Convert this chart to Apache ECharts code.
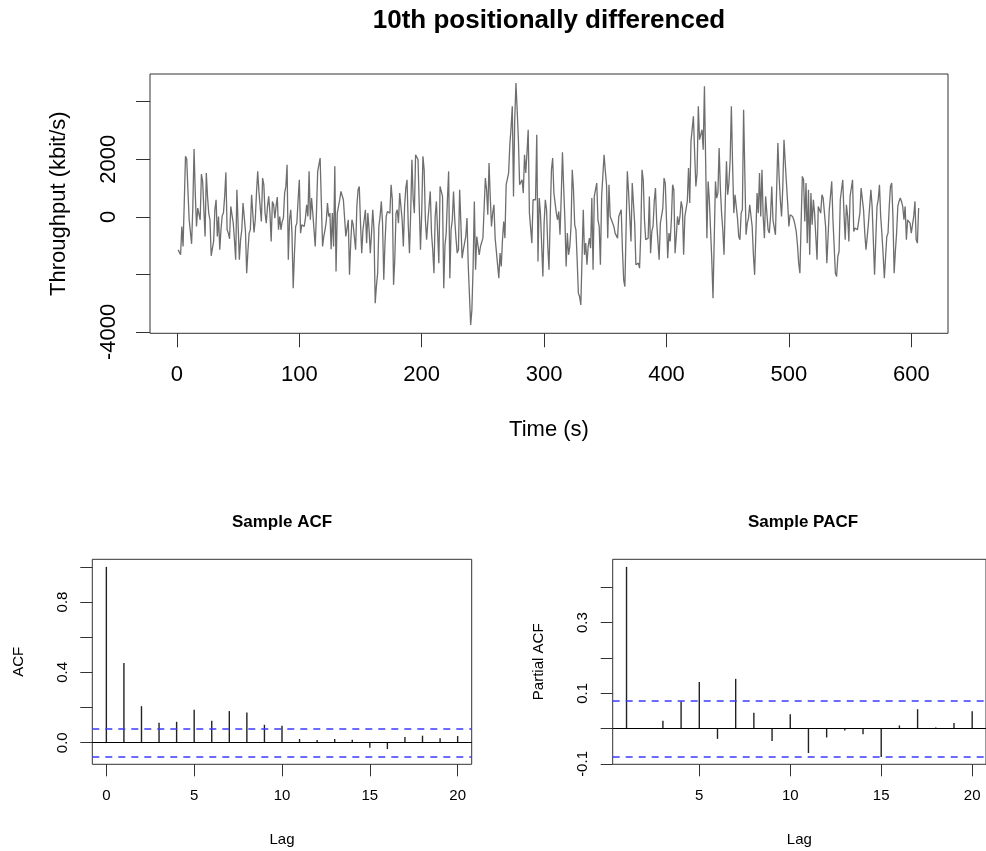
<!DOCTYPE html>
<html>
<head>
<meta charset="utf-8">
<script src="https://cdn.jsdelivr.net/npm/echarts@6/dist/echarts.min.js"></script>
<style>
html,body{margin:0;padding:0;background:#fff;}
#chart{width:986px;height:851px;}
</style>
</head>
<body>
<div id="chart"></div>
<script>
// ---- Data ----
// 10th positionally differenced throughput (kbit/s), one value per second, t = 1..606
const throughput = [
  -1150,-1206,-1322,-336,-1032,500,2100,2006,900,-104,-46,-940,360,2355,800,-336,302,244,-104,1485,1230,1230,-684,1520,700,
  128,-104,-1357,-1100,-858,244,592,-684,12,-1148,-452,35,128,708,1543,-452,-568,-766,360,418,-220,-800,-1496,940,940,
  -1496,-800,-452,476,476,-500,-1960,-1200,-568,-452,766,731,-545,-104,824,1578,882,882,-162,1346,1114,128,-220,
  360,708,128,-858,534,418,-46,360,684,-452,12,-452,-162,-46,824,1056,1810,-1496,-104,244,-568,-2482,-1300,-336,-220,
  592,1288,-568,-278,-278,-336,-46,418,12,1578,-104,650,128,-452,-1032,128,1578,1520,2042,500,-1032,-684,-452,-162,476,
  12,128,-1125,128,-1032,1752,-1902,128,70,592,882,940,592,-46,-684,-742,-104,-2018,-900,-104,-278,-220,-1148,360,940,
  1056,-220,-1264,
  -452,-104,244,-916,128,-452,-1264,-568,244,-452,-3004,-2400,-1960,-336,12,534,-220,-2192,-900,12,186,128,128,1114,592,
  -2366,-1496,128,244,-220,824,766,-104,-1032,360,998,1288,-278,-1264,128,1984,650,128,2158,2158,1984,360,-1148,128,2100,
  1636,-104,-800,-162,360,882,-568,-1148,-1960,12,534,592,-1612,1056,882,708,-2482,-1000,-568,592,1578,-2134,-452,-104,882,
  -104,-742,-1264,
  -1148,940,-220,-1438,-1148,-1206,-684,-46,-1670,-1728,-3758,-3236,-1728,534,-1844,-684,-684,-1322,-1032,-1090,-742,-800,1346,940,70,
  1868,700,-336,128,418,-742,-800,-1670,-2134,-1264,-1728,-800,-162,-742,1114,1172,1520,2506,3086,3840,708,3376,4652,3700,2680,
  1114,1056,1288,824,2158,1520,2216,3028,128,70,-916,592,650,592,2854,-1554,650,128,-974,-2076,-220,592,244,-1032,-1844,
  12,1636,
  2042,824,766,128,-104,186,-626,708,2239,1000,-104,-1728,-568,-1322,-1032,-336,1636,940,-278,-452,-1496,-2656,-2772,-3062,-1400,
  244,-1322,-916,-1670,-1032,-742,-1090,650,-1844,708,940,1172,-104,-336,-1670,708,650,2158,1600,1114,-742,1114,12,-104,-46,
  -336,-568,-568,-742,12,70,244,-1148,-2192,-2424,-400,1578,882,940,-858,1172,1230,-220,-1670,-1728,-1612,-1786,-568,1636,1288,
  -104,-800,-742,
  -742,708,-1264,-510,-336,534,998,-220,-278,-1496,-220,-278,302,1346,1172,-104,-1438,-568,-858,-104,1114,940,-1264,-684,12,
  -278,12,534,302,-1322,12,-46,534,1694,476,2622,2564,3492,2200,1056,1520,3840,2680,2622,3028,2332,4536,1900,-742,1230,
  592,-452,-1496,-2830,-800,1230,650,824,2390,998,128,-452,-1322,476,1926,766,1172,1984,3840,1800,128,766,824,-46,-684,
  -800,128,244,
  3724,1500,-626,-220,-46,418,360,-336,-1322,-2018,-600,824,128,1520,12,1636,12,-742,708,128,-452,-568,12,1056,-104,
  -46,-626,-568,2564,1400,592,12,998,2680,1900,1172,476,-336,70,12,12,-104,-278,-510,-974,-1612,-1960,-200,1404,1288,
  -162,1172,-916,940,-1322,824,-278,592,128,-684,-1496,360,360,128,766,650,592,-336,-1612,-700,244,244,1230,-104,-104,
  -1960,-2076,
  -1380,-1206,592,592,1288,128,-800,418,12,-858,708,766,1288,-510,-394,-452,-452,-452,128,998,998,244,-568,-1148,-700,
  -220,360,940,360,302,-2018,-800,360,592,1114,12,-600,-1322,-2134,-1400,-684,-568,360,1056,1172,12,-1960,-1200,-568,360,
  534,650,534,360,-104,360,-800,-104,-162,-220,-568,-626,12,534,-800,-916,302
];

// Sample ACF, lags 0..20
const acfLags = [0,1,2,3,4,5,6,7,8,9,10,11,12,13,14,15,16,17,18,19,20];
const acfValues = [1.0,0.454,0.208,0.114,0.119,0.188,0.125,0.180,0.172,0.102,0.097,0.021,0.015,0.021,0.017,-0.028,-0.036,0.032,0.040,0.025,0.038];

// Sample PACF, lags 1..20
const pacfLags = [1,2,3,4,5,6,7,8,9,10,11,12,13,14,15,16,17,18,19,20];
const pacfValues = [0.458,0.002,0.022,0.077,0.132,-0.029,0.141,0.045,-0.035,0.041,-0.069,-0.025,-0.005,-0.016,-0.080,0.009,0.055,0.003,0.016,0.049];

// 95% confidence bound (+/-)
const confBound = 0.0796;

// Tick values
const timeTicks = [0,100,200,300,400,500,600];
const tpTicks = [-4000,-2000,0,2000,4000];
const tpLabels = [-4000,0,2000];
const acfXTicks = [0,5,10,15,20];
const acfYTicks = [0,0.2,0.4,0.6,0.8,1.0];
const acfYLabels = [0,0.4,0.8];
const pacfXTicks = [5,10,15,20];
const pacfYTicks = [-0.1,0,0.1,0.2,0.3,0.4];
const pacfYLabels = [-0.1,0.1,0.3];

// ---- Chart ----
const FONT = '"Liberation Sans", Arial, Helvetica, sans-serif';
const AX = '#333';
const chart = echarts.init(document.getElementById('chart'), null, {renderer:'canvas'});

function tickCfg(vals, len){
  return {show:true, customValues: vals, length: len, inside:false, lineStyle:{color:AX, width:1}};
}
const noLine = {show:false, onZero:false};
const gridStyle = {show:true, borderColor:AX, borderWidth:1, backgroundColor:'transparent'};
const plain = (v)=>String(v);
const oneDec = (v)=>Number(v).toFixed(1);

const option = {
  animation:false,
  backgroundColor:'#fff',
  textStyle:{fontFamily:FONT},
  grid:[
    Object.assign({left:150, top:74, width:798, height:259.3, containLabel:false}, gridStyle),
    Object.assign({left:92.3, top:559.3, width:379.4, height:205, containLabel:false}, gridStyle),
    Object.assign({left:612.7, top:559.3, width:380.7, height:205, containLabel:false}, gridStyle)
  ],
  xAxis:[
    {gridIndex:0, type:'value', min:-22, max:630, splitLine:{show:false}, axisLine:noLine,
     axisTick:tickCfg(timeTicks,14),
     axisLabel:{customValues:timeTicks, fontSize:22, color:'#000', margin:31, fontFamily:FONT, formatter:plain},
     name:'Time (s)', nameLocation:'middle', nameGap:86, nameTextStyle:{fontSize:22, color:'#000', fontFamily:FONT}},
    {gridIndex:1, type:'value', min:-0.8, max:20.8, splitLine:{show:false}, axisLine:noLine,
     axisTick:tickCfg(acfXTicks,12),
     axisLabel:{customValues:acfXTicks, fontSize:15, color:'#000', margin:24, fontFamily:FONT, formatter:plain},
     name:'Lag', nameLocation:'middle', nameGap:68, nameTextStyle:{fontSize:15, color:'#000', fontFamily:FONT}},
    {gridIndex:2, type:'value', min:0.24, max:20.76, splitLine:{show:false}, axisLine:noLine,
     axisTick:tickCfg(pacfXTicks,12),
     axisLabel:{customValues:pacfXTicks, fontSize:15, color:'#000', margin:24, fontFamily:FONT, formatter:plain},
     name:'Lag', nameLocation:'middle', nameGap:68, nameTextStyle:{fontSize:15, color:'#000', fontFamily:FONT}}
  ],
  yAxis:[
    {gridIndex:0, type:'value', min:-4050, max:4963, splitLine:{show:false}, axisLine:noLine,
     axisTick:tickCfg(tpTicks,14),
     axisLabel:{customValues:tpLabels, rotate:90, fontSize:22, color:'#000', margin:30, fontFamily:FONT, formatter:plain},
     name:'Throughput (kbit/s)', nameLocation:'middle', nameGap:80, nameRotate:90,
     nameTextStyle:{fontSize:22, color:'#000', fontFamily:FONT}},
    {gridIndex:1, type:'value', min:-0.1227, max:1.043, splitLine:{show:false}, axisLine:noLine,
     axisTick:tickCfg(acfYTicks,12),
     axisLabel:{customValues:acfYLabels, rotate:90, fontSize:15, color:'#000', margin:22, fontFamily:FONT, formatter:oneDec},
     name:'ACF', nameLocation:'middle', nameGap:66, nameRotate:90,
     nameTextStyle:{fontSize:15, color:'#000', fontFamily:FONT}},
    {gridIndex:2, type:'value', min:-0.101, max:0.4795, splitLine:{show:false}, axisLine:noLine,
     axisTick:tickCfg(pacfYTicks,12),
     axisLabel:{customValues:pacfYLabels, rotate:90, fontSize:15, color:'#000', margin:22, fontFamily:FONT, formatter:oneDec},
     name:'Partial ACF', nameLocation:'middle', nameGap:66, nameRotate:90,
     nameTextStyle:{fontSize:15, color:'#000', fontFamily:FONT}}
  ],
  graphic:[
    {type:'text', x:549, y:21, style:{text:'10th positionally differenced', font:'bold 26px '+FONT, fill:'#000', textAlign:'center', textVerticalAlign:'middle'}},
    {type:'text', x:282, y:522, style:{text:'Sample ACF', font:'bold 17px '+FONT, fill:'#000', textAlign:'center', textVerticalAlign:'middle'}},
    {type:'text', x:803, y:522, style:{text:'Sample PACF', font:'bold 17px '+FONT, fill:'#000', textAlign:'center', textVerticalAlign:'middle'}}
  ],
  series:[
    {type:'line', xAxisIndex:0, yAxisIndex:0, showSymbol:false, symbol:'none',
     data: throughput.map((v,i)=>[i+1, v]),
     lineStyle:{color:'#6e6e6e', width:1.3}},
    {type:'bar', xAxisIndex:1, yAxisIndex:1, barWidth:1.4,
     data: acfLags.map((l,i)=>[l, acfValues[i]]),
     itemStyle:{color:'#222'},
     markLine:{silent:true, symbol:'none', label:{show:false},
       data:[
         {yAxis:0, lineStyle:{color:'#000', width:1.2, type:'solid'}},
         {yAxis:confBound, lineStyle:{color:'#3b3bff', width:1.5, type:[7,6]}},
         {yAxis:-confBound, lineStyle:{color:'#3b3bff', width:1.5, type:[7,6]}}
       ]}},
    {type:'bar', xAxisIndex:2, yAxisIndex:2, barWidth:1.4,
     data: pacfLags.map((l,i)=>[l, pacfValues[i]]),
     itemStyle:{color:'#222'},
     markLine:{silent:true, symbol:'none', label:{show:false},
       data:[
         {yAxis:0, lineStyle:{color:'#000', width:1.2, type:'solid'}},
         {yAxis:confBound, lineStyle:{color:'#3b3bff', width:1.5, type:[7,6]}},
         {yAxis:-confBound, lineStyle:{color:'#3b3bff', width:1.5, type:[7,6]}}
       ]}}
  ]
};
chart.setOption(option);
</script>
</body>
</html>
